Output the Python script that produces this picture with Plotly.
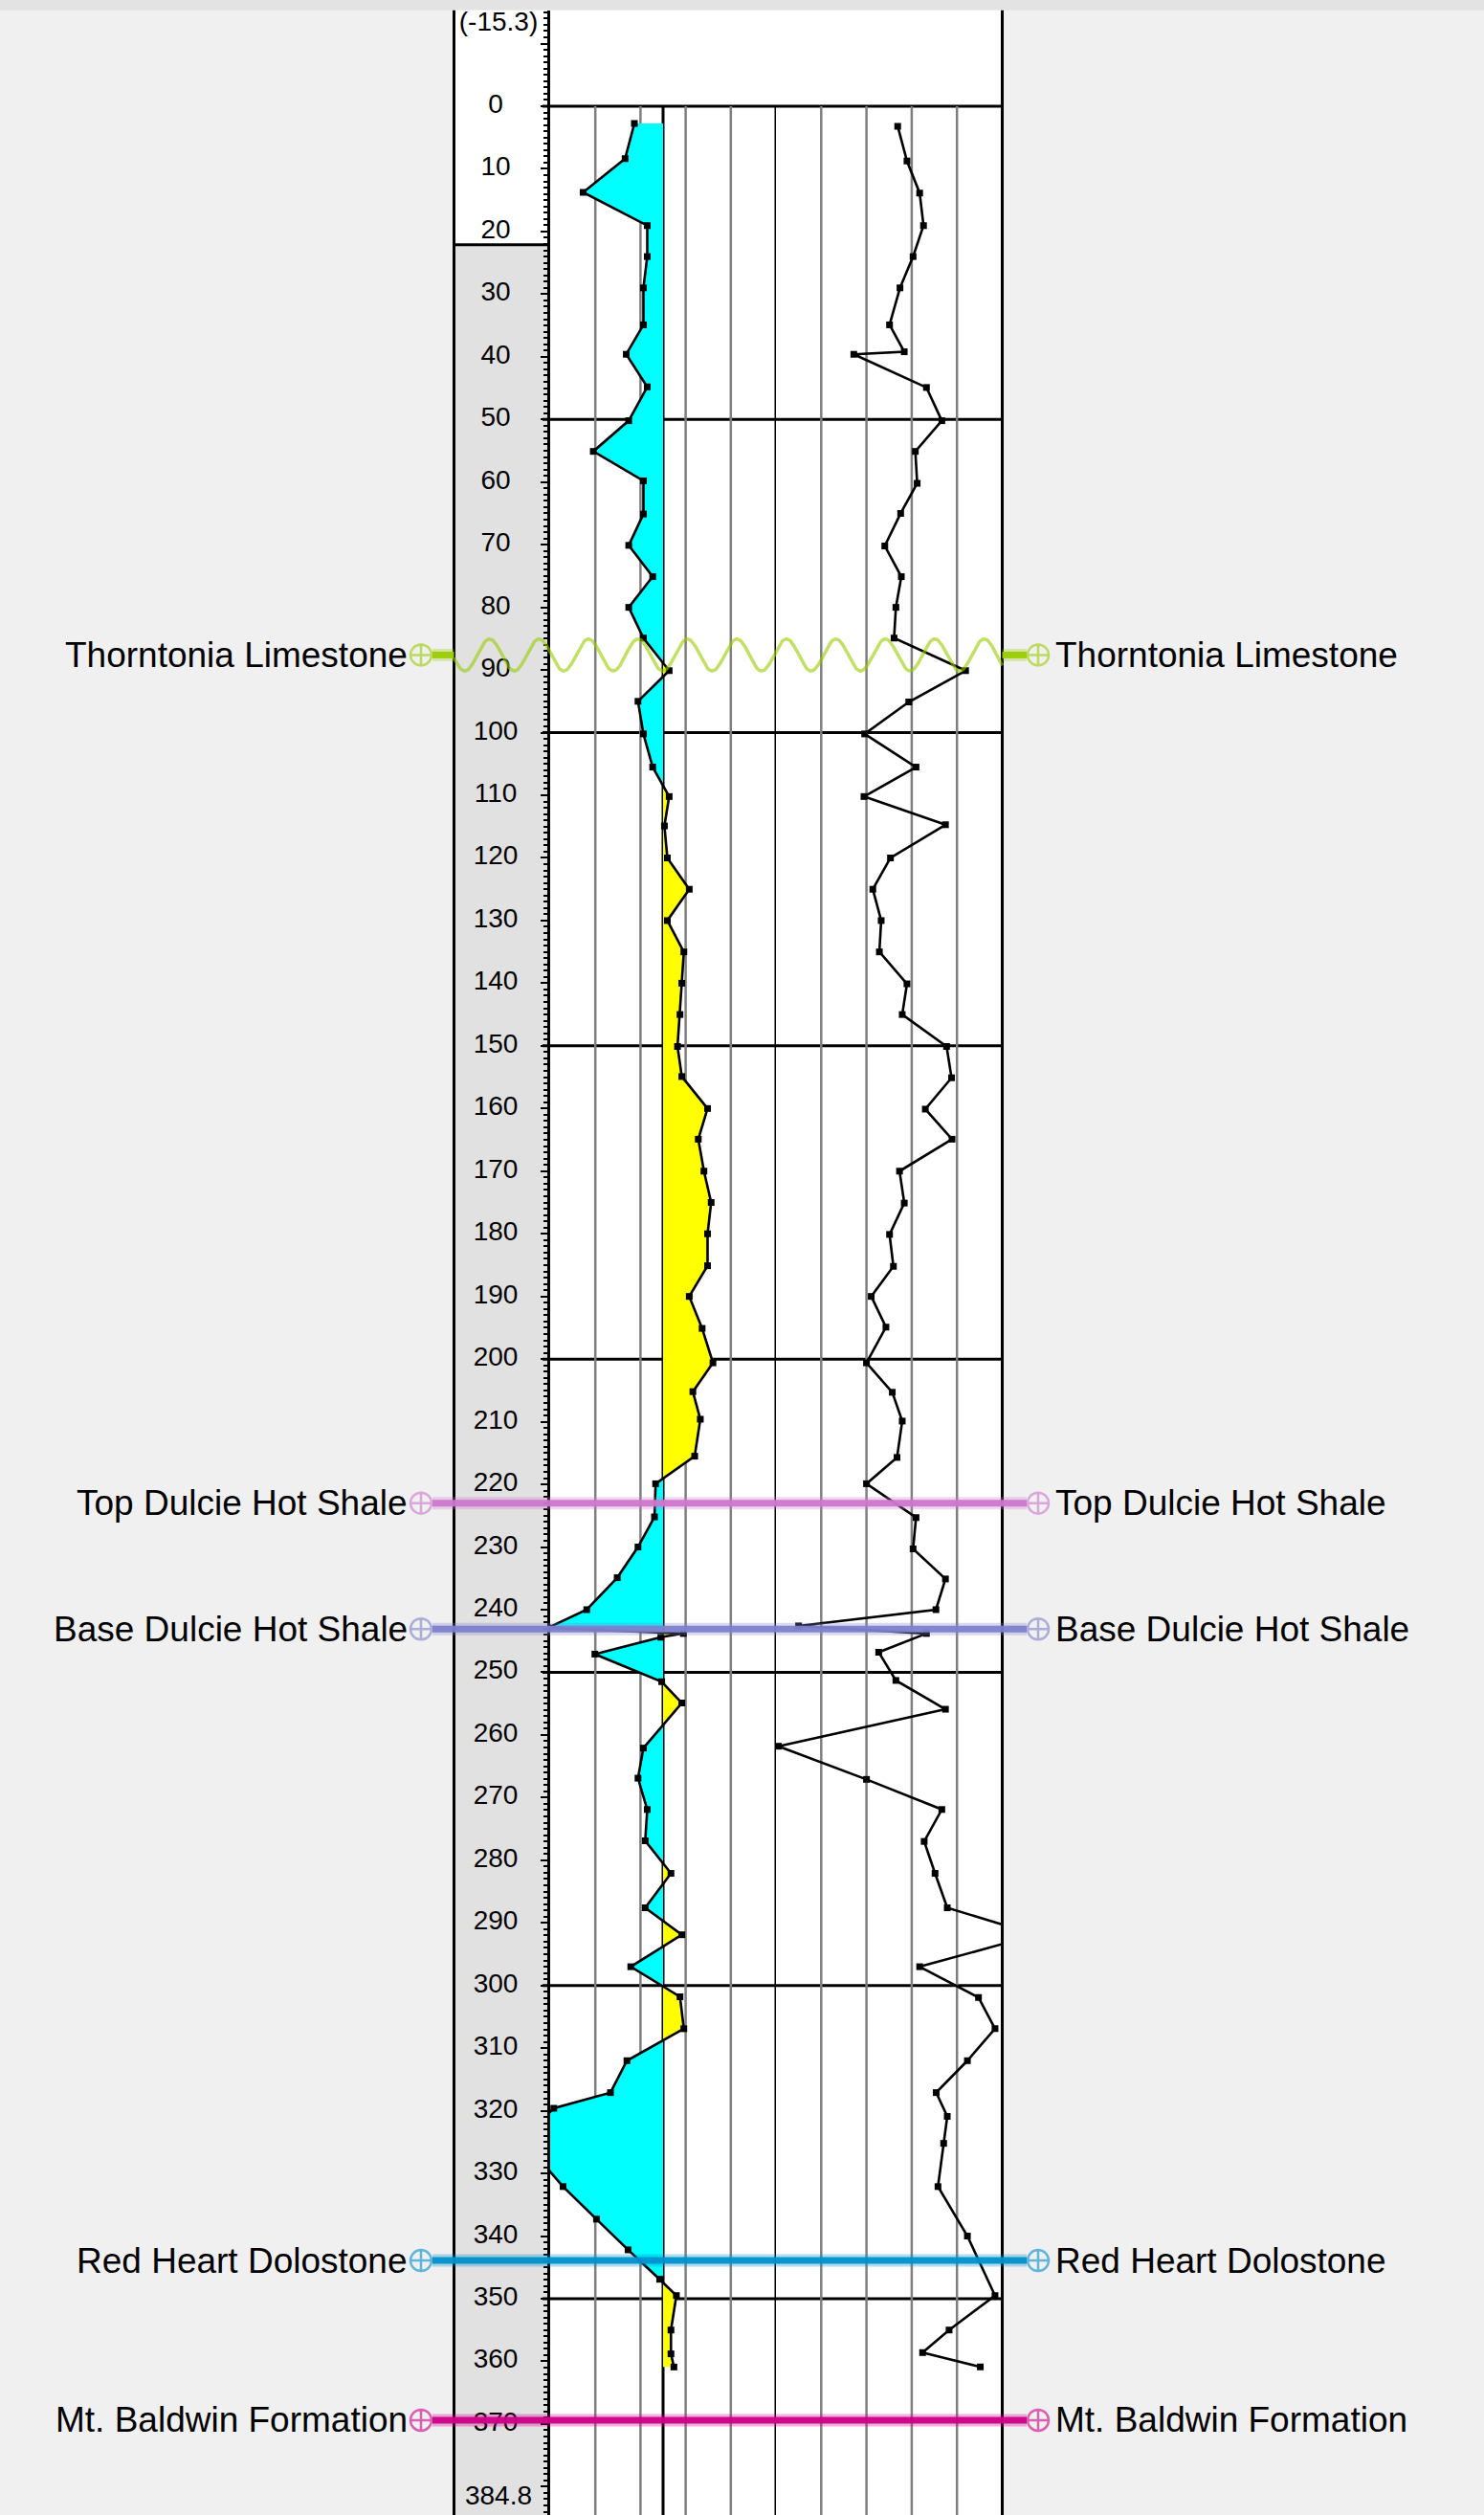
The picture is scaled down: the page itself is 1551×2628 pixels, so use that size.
import plotly.graph_objects as go
import math

W, H = 1551, 2628

# ---------------- data ----------------
DEPTH_TOP = -15.3
DEPTH_BOTTOM = 384.8
TICK_DEPTHS = list(range(0, 371, 10))
TICK_LABELS = [str(d) for d in TICK_DEPTHS]
RANGE_LABELS = ["(-15.3)", "384.8"]

LEFT_DEPTH = [2.75, 8.35, 13.75, 19.05, 24.0, 29.0, 34.9, 39.6, 44.8, 50.2, 55.1, 59.8, 65.1, 70.1,
              75.1, 80.0, 84.9, 90.1, 95.0, 100.2, 105.5, 110.2, 114.9, 120.0, 125.0, 130.0, 135.0,
              140.0, 145.0, 150.1, 154.9, 160.0, 164.9, 170.0, 175.0, 180.0, 185.1, 190.0, 195.1,
              200.6, 205.2, 209.6, 215.5, 219.9, 225.2, 230.0, 234.9, 240.0, 242.9, 243.8, 244.4,
              247.1, 251.5, 254.9, 262.1, 266.9, 271.9, 276.9, 282.1, 287.6, 291.9, 297.0, 301.8,
              306.9, 312.0, 317.1, 319.6, 322.3, 327.2, 332.1, 337.3, 342.2, 346.9, 349.5, 355.0,
              358.8, 360.9]
LEFT_VALUE = [-12.7, -16.8, -35.4, -7.0, -7.0, -8.7, -8.7, -16.3, -7.0, -15.2, -30.9, -8.7, -8.7, -15.2,
              -4.6, -15.2, -8.7, 2.7, -11.1, -8.7, -4.6, 2.7, 0.6, 1.9, 11.6, 1.9, 9.2,
              8.3, 7.5, 6.4, 8.3, 19.7, 15.6, 18.1, 21.3, 19.7, 19.7, 11.6, 17.3,
              22.1, 13.2, 16.5, 14.0, -3.3, -3.8, -11.1, -20.3, -33.8, -51.0, 9.0, -1.0,
              -30.2, -0.6, 8.3, -8.7, -11.1, -7.0, -7.9, 3.5, -7.9, 8.3, -14.3, 7.5,
              9.2, -16.0, -23.3, -48.4, -56.0, -56.0, -44.3, -29.5, -15.5, -1.5, 5.9, 3.5,
              3.5, 4.8]

RIGHT_DEPTH = [3.2, 8.75, 13.85, 19.05, 24.0, 29.0, 34.9, 39.2, 39.6, 44.9, 50.2, 55.1, 60.2, 65.0,
               70.2, 75.1, 80.0, 84.9, 90.1, 95.1, 100.2, 105.5, 110.2, 114.7, 120.0, 125.0, 130.0,
               135.0, 140.1, 145.0, 150.1, 155.1, 160.1, 164.9, 170.0, 175.1, 180.1, 185.2, 190.0,
               194.9, 200.6, 205.3, 209.9, 215.7, 219.9, 225.3, 230.3, 235.1, 240.0, 242.6, 243.8,
               246.8, 251.3, 255.9, 261.8, 267.1, 271.9, 277.0, 282.1, 287.6, 291.9, 297.0, 301.9,
               306.9, 312.0, 317.1, 320.9, 325.2, 332.1, 340.0, 349.5, 355.0, 358.6, 360.9]
RIGHT_VALUE = [53.8, 57.9, 63.5, 65.2, 60.6, 54.8, 50.2, 56.7, 34.4, 66.5, 73.3, 61.6, 62.4, 55.1,
               48.1, 55.4, 53.0, 52.2, 83.8, 58.7, 39.2, 61.9, 38.9, 74.9, 50.6, 42.8, 46.5,
               45.7, 57.9, 55.8, 75.4, 77.6, 66.0, 77.8, 54.6, 56.7, 50.2, 51.9, 42.1,
               48.6, 40.0, 51.4, 55.8, 53.5, 40.0, 61.9, 60.6, 74.9, 70.7, 10.0, 66.5,
               45.4, 53.0, 74.9, 1.1, 40.0, 73.3, 65.5, 70.3, 75.7, 115.0, 63.5, 89.5,
               96.8, 84.6, 70.8, 75.7, 74.1, 71.6, 84.6, 96.8, 76.5, 64.8, 90.3]

TOPS_NAME = ["Thorntonia Limestone", "Top Dulcie Hot Shale", "Base Dulcie Hot Shale",
             "Red Heart Dolostone", "Mt. Baldwin Formation"]
TOPS_DEPTH = [87.6, 223.0, 243.1, 343.9, 369.4]
TOPS_RGB = [(153, 204, 0), (204, 119, 204), (128, 128, 204), (0, 144, 204), (204, 0, 136)]
TOPS_WAVY = [True, False, False, False, False]

LEFT_RANGE = [-50, 50]
LEFT_GRID = [-30, -10, 10, 30]
RIGHT_RANGE = [0, 100]
RIGHT_GRID = [20, 40, 60, 80]
MAJOR_DEPTHS = list(range(0, 351, 50))

# ---------------- geometry (pixels) ----------------
X_DL, X_PL, X_MID, X_PR = 474.5, 575.0, 811.0, 1047.5
Y_TOP = 10.85
PXU = 6.5457  # pixels per depth unit
Y_SPLIT = 255.7
D_BOT = DEPTH_TOP + (H - Y_TOP) / PXU


def px(x):
    return x / W


def py(y):
    return 1 - y / H


def depth_at(ypix):
    return DEPTH_TOP + (ypix - Y_TOP) / PXU


def rgba(c, a):
    return "rgba(%d,%d,%d,%.2f)" % (c[0], c[1], c[2], a)


def split_fill(depths, values):
    px_, py_, nx_, ny_ = [], [], [], []
    for i, (d, v) in enumerate(zip(depths, values)):
        if i > 0:
            d0, v0 = depths[i - 1], values[i - 1]
            if (v0 < 0 < v) or (v0 > 0 > v):
                t = v0 / (v0 - v)
                dc = d0 + t * (d - d0)
                px_.append(0); py_.append(dc)
                nx_.append(0); ny_.append(dc)
        px_.append(max(v, 0)); py_.append(d)
        nx_.append(min(v, 0)); ny_.append(d)
    return px_, py_, nx_, ny_


fig = go.Figure()

pos_x, pos_y, neg_x, neg_y = split_fill(LEFT_DEPTH, LEFT_VALUE)
fig.add_trace(go.Scatter(x=neg_x, y=neg_y, mode="lines", fill="tozerox", fillcolor="#00ffff",
                         line=dict(width=0, color="#00ffff"), xaxis="x", yaxis="y", hoverinfo="skip"))
fig.add_trace(go.Scatter(x=pos_x, y=pos_y, mode="lines", fill="tozerox", fillcolor="#ffff00",
                         line=dict(width=0, color="#ffff00"), xaxis="x", yaxis="y", hoverinfo="skip"))
fig.add_trace(go.Scatter(x=LEFT_VALUE, y=LEFT_DEPTH, mode="lines+markers",
                         line=dict(color="black", width=2.6),
                         marker=dict(symbol="square", size=7, color="black"),
                         xaxis="x", yaxis="y"))
fig.add_trace(go.Scatter(x=RIGHT_VALUE, y=RIGHT_DEPTH, mode="lines+markers",
                         line=dict(color="black", width=2.6),
                         marker=dict(symbol="square", size=7, color="black"),
                         xaxis="x2", yaxis="y"))

# depth labels
fig.add_trace(go.Scatter(x=[518] * len(TICK_DEPTHS), y=TICK_DEPTHS, mode="text", text=TICK_LABELS,
                         textposition="middle center",
                         textfont=dict(family="Liberation Sans", size=28, color="black"),
                         xaxis="x3", yaxis="y", cliponaxis=False, hoverinfo="skip"))
fig.add_trace(go.Scatter(x=[521, 521], y=[depth_at(25), depth_at(2610)], mode="text", text=RANGE_LABELS,
                         textposition="middle center",
                         textfont=dict(family="Liberation Sans", size=28, color="black"),
                         xaxis="x3", yaxis="y", cliponaxis=False, hoverinfo="skip"))

shapes = []
# backgrounds
shapes.append(dict(type="rect", xref="paper", yref="paper", x0=0, x1=1, y0=py(Y_TOP), y1=1,
                   fillcolor="#e3e3e3", line=dict(width=0), layer="below"))
shapes.append(dict(type="rect", xref="paper", yref="paper", x0=px(X_DL), x1=px(X_PL), y0=py(Y_SPLIT),
                   y1=py(Y_TOP), fillcolor="white", line=dict(width=0), layer="below"))
shapes.append(dict(type="rect", xref="paper", yref="paper", x0=px(X_DL), x1=px(X_PL), y0=0,
                   y1=py(Y_SPLIT), fillcolor="#e1e1e1", line=dict(width=0), layer="below"))
shapes.append(dict(type="rect", xref="paper", yref="paper", x0=px(X_PL), x1=px(X_PR), y0=0,
                   y1=py(Y_TOP), fillcolor="white", line=dict(width=0), layer="below"))
# borders
shapes.append(dict(type="line", xref="paper", yref="paper", x0=px(X_DL), x1=px(X_DL), y0=0, y1=py(Y_TOP),
                   line=dict(color="black", width=3), layer="below"))
shapes.append(dict(type="line", xref="paper", yref="paper", x0=px(X_DL), x1=px(X_PL), y0=py(Y_SPLIT),
                   y1=py(Y_SPLIT), line=dict(color="black", width=3), layer="below"))
shapes.append(dict(type="line", xref="paper", yref="paper", x0=px(X_PR), x1=px(X_PR), y0=0, y1=py(Y_TOP),
                   line=dict(color="black", width=3), layer="below"))
# vertical grid
for g in LEFT_GRID:
    shapes.append(dict(type="line", xref="x", yref="y", x0=g, x1=g, y0=0, y1=D_BOT,
                       line=dict(color="#7f7f7f", width=2.5), layer="below"))
for g in RIGHT_GRID:
    shapes.append(dict(type="line", xref="x2", yref="y", x0=g, x1=g, y0=0, y1=D_BOT,
                       line=dict(color="#7f7f7f", width=2.5), layer="below"))
for g in [0, LEFT_RANGE[1]]:
    shapes.append(dict(type="line", xref="x", yref="y", x0=g, x1=g, y0=0, y1=D_BOT,
                       line=dict(color="black", width=3), layer="below"))
# horizontal major grid
for d in MAJOR_DEPTHS:
    shapes.append(dict(type="line", xref="paper", yref="y", x0=px(X_PL - 8), x1=px(X_PR), y0=d, y1=d,
                       line=dict(color="black", width=3), layer="below"))

# formation tops
annotations = []
for name, d, c, wavy in zip(TOPS_NAME, TOPS_DEPTH, TOPS_RGB, TOPS_WAVY):
    if wavy:
        segs = [(452, X_DL), (X_PR, 1073)]
    else:
        segs = [(452, 1073)]
    for a, b in segs:
        shapes.append(dict(type="line", xref="paper", yref="y", x0=px(a), x1=px(b), y0=d, y1=d,
                           line=dict(color=rgba(c, 0.3), width=13), layer="above"))
        shapes.append(dict(type="line", xref="paper", yref="y", x0=px(a), x1=px(b), y0=d, y1=d,
                           line=dict(color=rgba(c, 0.95), width=7), layer="above"))
    if wavy:
        xs = [X_DL + i for i in range(int(X_PR - X_DL) + 1)]
        ys = [d - 2.55 * math.cos(2 * math.pi * (x - 511.7) / 51.7) for x in xs]
        fig.add_trace(go.Scatter(x=xs, y=ys, mode="lines", line=dict(color=rgba(c, 0.6), width=3.5),
                                 xaxis="x3", yaxis="y", hoverinfo="skip"))
    fig.add_trace(go.Scatter(x=[440, 1085], y=[d, d], mode="markers",
                             marker=dict(symbol="circle-cross-open", size=22,
                                         color=rgba(c, 0.6), line=dict(width=2.5, color=rgba(c, 0.6))),
                             xaxis="x3", yaxis="y", cliponaxis=False, hoverinfo="skip"))
    annotations.append(dict(xref="paper", yref="y", x=px(428), y=d, text=name, showarrow=False,
                            xanchor="right", yanchor="middle",
                            font=dict(family="Liberation Sans", size=37, color="black")))
    annotations.append(dict(xref="paper", yref="y", x=px(1101), y=d, text=name, showarrow=False,
                            xanchor="left", yanchor="middle",
                            font=dict(family="Liberation Sans", size=37, color="black")))

hidden = dict(visible=False, showgrid=False, zeroline=False, fixedrange=True)
fig.update_layout(
    width=W, height=H, autosize=False,
    margin=dict(l=0, r=0, t=0, b=0, pad=0),
    paper_bgcolor="#f0f0f0", plot_bgcolor="rgba(0,0,0,0)",
    showlegend=False, hovermode=False,
    xaxis=dict(domain=[px(X_PL), px(X_MID)], range=LEFT_RANGE, anchor="y", **hidden),
    xaxis2=dict(domain=[px(X_MID), px(X_PR)], range=RIGHT_RANGE, anchor="y", **hidden),
    xaxis3=dict(domain=[0, 1], range=[0, W], anchor="y", **hidden),
    yaxis=dict(domain=[0, py(Y_TOP)], range=[D_BOT, DEPTH_TOP], anchor="x",
               showline=True, linecolor="black", linewidth=3,
               ticks="outside", ticklen=7, tickwidth=2, tickcolor="black",
               tick0=0, dtick=10, showticklabels=False, showgrid=False, zeroline=False,
               minor=dict(dtick=1, tick0=0, ticks="outside", ticklen=4, tickwidth=2,
                          tickcolor="black", showgrid=False),
               fixedrange=True),
    shapes=shapes, annotations=annotations,
)

fig.write_html(
    "out.html",
    config={"displayModeBar": False, "staticPlot": True},
    post_script="document.body.style.margin='0';document.body.style.padding='0';"
                "document.body.style.overflow='hidden';document.body.style.background='#f0f0f0';",
)
